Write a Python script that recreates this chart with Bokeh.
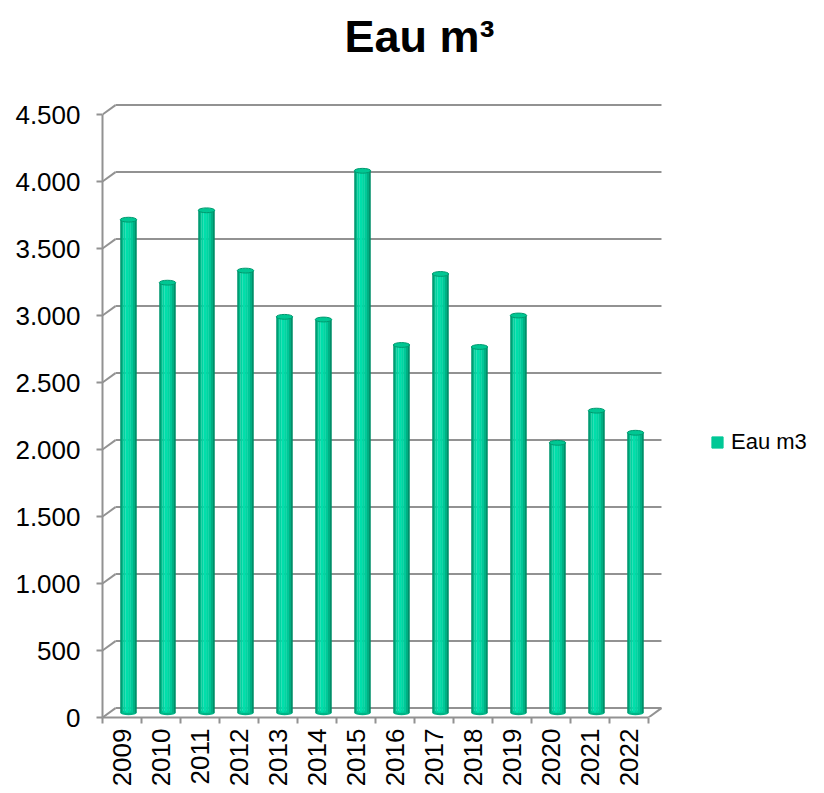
from math import pi
from bokeh.plotting import figure
from bokeh.models import (FixedTicker, Legend, LegendItem, Label, Range1d)
from bokeh.embed import file_html
from bokeh.resources import INLINE

# ---- data -------------------------------------------------------------
years = ["2009", "2010", "2011", "2012", "2013", "2014", "2015",
         "2016", "2017", "2018", "2019", "2020", "2021", "2022"]
eau_m3 = [3680, 3210, 3750, 3300, 2955, 2935, 4045,
          2745, 3275, 2730, 2965, 2015, 2255, 2090]
y_ticks = [0, 500, 1000, 1500, 2000, 2500, 3000, 3500, 4000, 4500]
y_tick_labels = ["0", "500", "1.000", "1.500", "2.000", "2.500",
                 "3.000", "3.500", "4.000", "4.500"]
title_text = "Eau m³"
series_name = "Eau m3"

# ---- pseudo-3D geometry (depth offsets in data units) ------------------
n = len(years)
DX = 0.333          # back wall offset along x
DY = 70.0           # back wall offset along y
BAR_W = 0.42
FONT = "Liberation Sans"
GRID = "#929292"
PX_X = 39.0         # pixels per category
PX_Y = 0.134        # pixels per m3

FRAME_W = 824 - 102 - 4
FRAME_H = 717
p = figure(width=824, height=793, output_backend="svg", toolbar_location=None,
           title_location=None,
           x_range=Range1d(0, FRAME_W / PX_X), y_range=Range1d(0, FRAME_H / PX_Y),
           min_border_left=102, min_border_right=4,
           min_border_top=0, min_border_bottom=76)
p.outline_line_color = None
p.xgrid.visible = False
p.ygrid.visible = False
p.background_fill_color = "white"
p.border_fill_color = "white"

# back-wall gridlines + floor
x0s, y0s, x1s, y1s = [], [], [], []
for t in y_ticks:
    x0s += [0, DX]
    y0s += [t, t + DY]
    x1s += [DX, n + DX]
    y1s += [t + DY, t + DY]
x0s.append(n); y0s.append(0); x1s.append(n + DX); y1s.append(DY)
p.segment(x0=x0s, y0=y0s, x1=x1s, y1=y1s, line_color=GRID, line_width=2)

# cylinders
centers = [i + 0.5 + DX / 2 for i in range(n)]
base = DY / 2
tops = [v + base for v in eau_m3]
strips = [(0.00, 0.10, "#009870"), (0.10, 0.20, "#00bb8a"),
          (0.20, 0.32, "#00d4a1"), (0.32, 0.48, "#00dfab"),
          (0.48, 0.64, "#00d6a2"), (0.64, 0.78, "#00c898"),
          (0.78, 0.90, "#00b083"), (0.90, 1.00, "#008f69")]
p.ellipse(x=centers, y=[base] * n, width=BAR_W, height=36,
          fill_color="#00b385", line_color=None)
for a, b, col in strips:
    xs = [c - BAR_W / 2 + BAR_W * (a + b) / 2 for c in centers]
    p.vbar(x=xs, width=BAR_W * (b - a) + 0.004, bottom=base, top=tops,
           fill_color=col, line_color=None)
p.ellipse(x=centers, y=tops, width=BAR_W, height=36,
          fill_color="#00c793", line_color="#00996f", line_width=1)

# legend proxy
legend_r = p.vbar(x=[0], width=0, top=[0], bottom=[0],
                  fill_color="#00c896", line_color="#00c896")
legend = Legend(items=[LegendItem(label=series_name, renderers=[legend_r])],
                location=(608, 262), padding=0, margin=0, spacing=0,
                glyph_width=14, glyph_height=14, label_standoff=7,
                label_text_font=FONT, label_text_font_size="22px",
                label_text_color="black", border_line_color=None,
                background_fill_alpha=0)
p.add_layout(legend, "center")

# title
p.add_layout(Label(x=(419 - 102) / PX_X, y=(717 - 36) / PX_Y, text=title_text,
                   text_font=FONT, text_font_size="45px", text_font_style="bold",
                   text_align="center", text_baseline="alphabetic",
                   text_color="black"))

# y axis
ya = p.yaxis[0]
ya.ticker = FixedTicker(ticks=y_ticks)
ya.major_label_overrides = {t: s for t, s in zip(y_ticks, y_tick_labels)}
ya.bounds = (0, 4500)
ya.minor_tick_line_color = None
ya.major_tick_in = 0
ya.major_tick_out = 6
ya.major_tick_line_color = GRID
ya.major_tick_line_width = 2
ya.axis_line_color = GRID
ya.axis_line_width = 2
ya.major_label_text_font = FONT
ya.major_label_text_font_size = "26px"
ya.major_label_text_color = "black"
ya.major_label_standoff = 16

# x axis
xa = p.xaxis[0]
xa.ticker = FixedTicker(ticks=[i + 0.5 for i in range(n)],
                        minor_ticks=list(range(n + 1)))
xa.major_label_overrides = {i + 0.5: y for i, y in enumerate(years)}
xa.bounds = (0, n)
xa.major_tick_line_color = None
xa.minor_tick_in = 0
xa.minor_tick_out = 6
xa.minor_tick_line_color = GRID
xa.minor_tick_line_width = 2
xa.axis_line_color = GRID
xa.axis_line_width = 2
xa.major_label_orientation = pi / 2
xa.major_label_text_font = FONT
xa.major_label_text_font_size = "26px"
xa.major_label_text_color = "black"
xa.major_label_standoff = 5

open("out.html", "w").write(file_html(p, INLINE))
